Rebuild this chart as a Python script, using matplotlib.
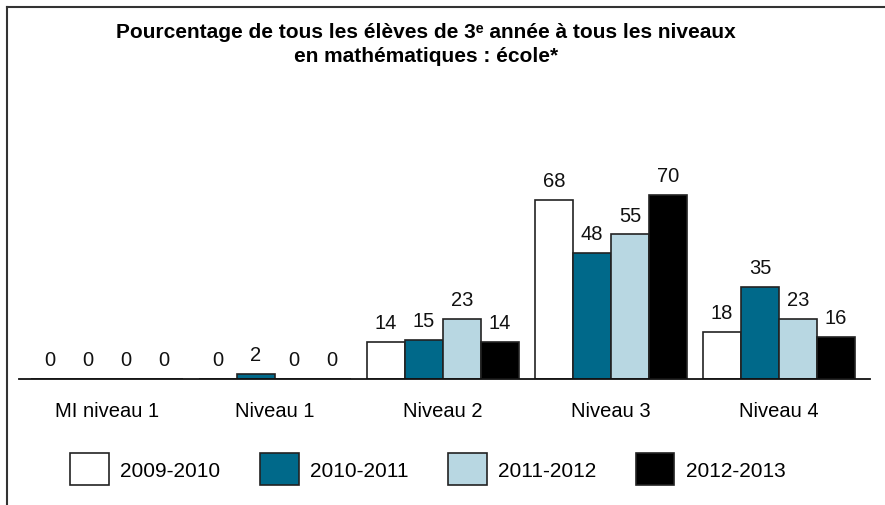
import matplotlib
matplotlib.use("Agg")
import matplotlib.pyplot as plt
from matplotlib.lines import Line2D
import numpy as np

plt.rcParams['font.family'] = ['Liberation Sans', 'DejaVu Sans']

categories = ["MI niveau 1", "Niveau 1", "Niveau 2", "Niveau 3", "Niveau 4"]
years = ["2009-2010", "2010-2011", "2011-2012", "2012-2013"]
v2009 = [0, 0, 14, 68, 18]
v2010 = [0, 2, 15, 48, 35]
v2011 = [0, 0, 23, 55, 23]
v2012 = [0, 0, 14, 70, 16]
series = [v2009, v2010, v2011, v2012]
colors = ["#FFFFFF", "#00698A", "#B8D7E2", "#000000"]

W, H = 885, 506
fig = plt.figure(figsize=(W / 100, H / 100), dpi=100)

left_px, right_px, base_px, top_px = 19, 870, 380, 170
ax = fig.add_axes([left_px / W, (H - base_px) / H, (right_px - left_px) / W, (base_px - top_px) / H])

x = np.arange(len(categories))
bw = 38 / 168
handles = []
for j, (vals, c) in enumerate(zip(series, colors)):
    bars = ax.bar(x + (j - 1.5) * bw, vals, width=bw, color=c, edgecolor="#222222", linewidth=1.2, label=years[j])
    handles.append(bars)
    for xi, v in zip(x + (j - 1.5) * bw, vals):
        ax.annotate(str(v), (xi, v), xytext=(0, 7), textcoords="offset points",
                    ha="center", va="bottom", fontsize=14.5, color="#111111")

ax.set_xlim((left_px - 107) / 168, (right_px - 107) / 168)
ax.set_ylim(0, (base_px - top_px) / 2.63)
for s in ["top", "right", "left"]:
    ax.spines[s].set_visible(False)
ax.spines["bottom"].set_color("#111111")
ax.spines["bottom"].set_linewidth(1.3)
ax.set_yticks([])
ax.set_xticks(x)
ax.set_xticklabels(categories, fontsize=14.5)
ax.tick_params(axis="x", length=0, pad=16)

fig.text(426 / W, 1 - 33 / H, "Pourcentage de tous les élèves de 3ᵉ année à tous les niveaux",
         ha="center", va="center", fontsize=15, fontweight="bold")
fig.text(426 / W, 1 - 56 / H, "en mathématiques : école*",
         ha="center", va="center", fontsize=15, fontweight="bold")

leg = fig.legend(handles=handles, labels=years, loc="center", ncol=4,
                 bbox_to_anchor=(428 / W, 1 - 470 / H), frameon=False, fontsize=15,
                 handlelength=1.85, handleheight=2.0, handletextpad=0.55, columnspacing=1.9)

fig.add_artist(Line2D([7 / W, 7 / W], [0, 1 - 8 / H], transform=fig.transFigure, color="#333333", lw=1.5))
fig.add_artist(Line2D([7 / W, 1], [1 - 8 / H, 1 - 8 / H], transform=fig.transFigure, color="#333333", lw=1.5))

fig.savefig("out.png", dpi=100)
